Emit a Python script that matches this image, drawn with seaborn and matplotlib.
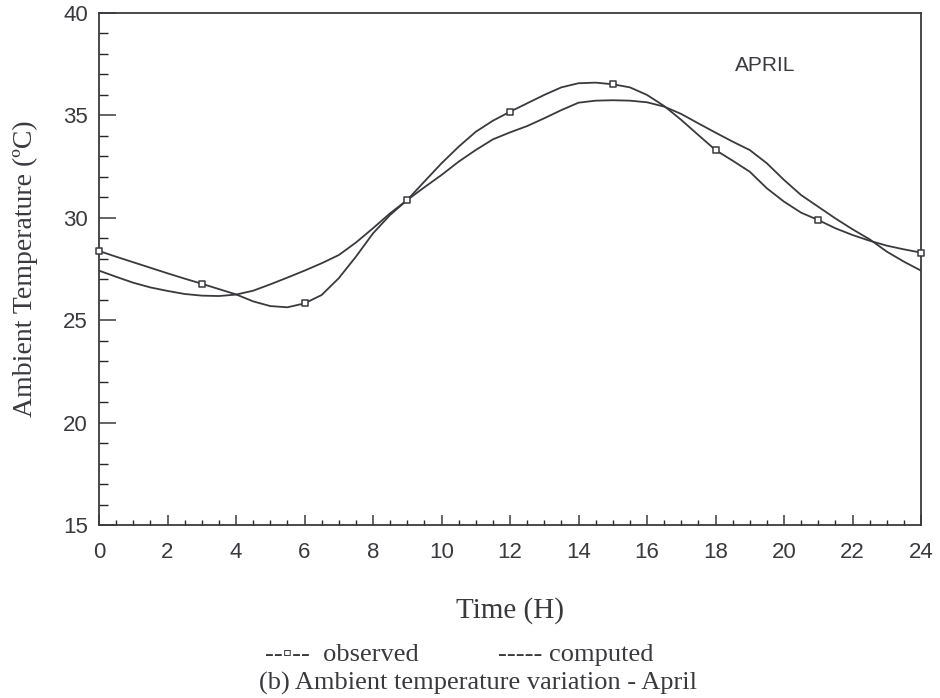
import numpy as np
import pandas as pd
import matplotlib
matplotlib.use("Agg")
import matplotlib.pyplot as plt
from matplotlib.ticker import MultipleLocator
import seaborn as sns

# values every half hour
hours = [h / 2 for h in range(49)]
computed_temp = [27.42, 27.12, 26.83, 26.60, 26.43, 26.28, 26.20, 26.18, 26.25, 26.44,
                 26.75, 27.08, 27.42, 27.78, 28.18, 28.79, 29.49, 30.22, 30.87, 31.49,
                 32.09, 32.74, 33.31, 33.83, 34.17, 34.48, 34.86, 35.26, 35.62, 35.72,
                 35.74, 35.72, 35.64, 35.43, 35.07, 34.61, 34.16, 33.72, 33.31, 32.66,
                 31.85, 31.11, 30.54, 29.97, 29.44, 28.95, 28.35, 27.86, 27.42]
observed_curve = [28.38, 28.10, 27.83, 27.56, 27.29, 27.03, 26.78, 26.52, 26.26, 25.92,
                  25.69, 25.63, 25.82, 26.23, 27.05, 28.10, 29.24, 30.14, 30.87, 31.77,
                  32.66, 33.47, 34.20, 34.74, 35.18, 35.59, 36.00, 36.37, 36.57, 36.60,
                  36.52, 36.37, 36.00, 35.46, 34.78, 34.04, 33.31, 32.79, 32.25, 31.44,
                  30.79, 30.25, 29.89, 29.49, 29.16, 28.88, 28.64, 28.46, 28.30]
# measured points (every 3 hours)
obs_hours = [0, 3, 6, 9, 12, 15, 18, 21, 24]
obs_temp = [28.38, 26.78, 25.82, 30.87, 35.18, 36.52, 33.31, 29.89, 28.30]

sns.set_style("ticks")
plt.rcParams['font.family'] = ['Liberation Sans', 'DejaVu Sans']
serif = ['Liberation Serif', 'DejaVu Serif', 'DejaVu Sans']
ink = '#3a3a3e'

curves = pd.DataFrame({'hour': hours, 'computed': computed_temp, 'observed': observed_curve})
points = pd.DataFrame({'hour': obs_hours, 'temp': obs_temp})

fig = plt.figure(figsize=(9.4, 6.98), dpi=100)
ax = fig.add_axes([99/940, 1-525/698, 822/940, 512/698])

sns.lineplot(data=curves, x='hour', y='computed', color=ink, lw=1.3, ax=ax)
sns.lineplot(data=curves, x='hour', y='observed', color=ink, lw=1.3, ax=ax)
sns.scatterplot(data=points, x='hour', y='temp', marker='s', s=20, facecolor='white',
                edgecolor=ink, linewidth=1.1, zorder=5, clip_on=False, ax=ax)

ax.set_xlim(0, 24)
ax.set_ylim(15, 40)
ax.xaxis.set_major_locator(MultipleLocator(2))
ax.xaxis.set_minor_locator(MultipleLocator(0.5))
ax.yaxis.set_major_locator(MultipleLocator(5))
ax.yaxis.set_minor_locator(MultipleLocator(1))
ax.tick_params(axis='x', which='major', direction='in', length=7, width=1.1, pad=12,
               labelsize=16, colors=ink)
ax.tick_params(axis='x', which='minor', direction='in', length=3.5, width=1.0)
ax.tick_params(axis='y', which='major', direction='in', length=12, width=1.1, pad=8,
               labelsize=16, colors=ink)
ax.tick_params(axis='y', which='minor', direction='in', length=6.5, width=1.0)
for sp in ax.spines.values():
    sp.set_linewidth(1.3)
    sp.set_color(ink)

ax.set_xlabel('Time (H)', family=serif, fontsize=21, color=ink)
ax.xaxis.set_label_coords(0.5, -0.14)
ax.set_ylabel('Ambient Temperature (\u00baC)', family=serif, fontsize=20, color=ink)
ax.yaxis.set_label_coords(-0.074, 0.5)

ax.text(19.45, 37.46, 'APRIL', ha='center', va='center', fontsize=15, color=ink)

fig.text(265/940, 1-655/698, '--\u25ab--  observed', family=serif, fontsize=19,
         ha='left', va='center', color=ink)
fig.text(498/940, 1-655/698, '----- computed', family=serif, fontsize=19,
         ha='left', va='center', color=ink)
fig.text(478/940, 1-683/698, '(b) Ambient temperature variation - April', family=serif,
         fontsize=19, ha='center', va='center', color=ink)

fig.savefig('out.png', dpi=100)
